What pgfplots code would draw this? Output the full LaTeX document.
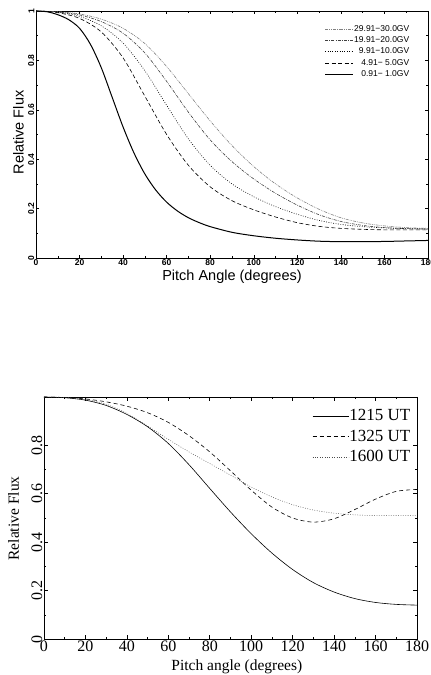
\documentclass[border=0pt]{standalone}
\usepackage{fontspec}
\setmainfont{Liberation Serif}
\setsansfont{Liberation Sans}
\usepackage{pgfplots}
\pgfplotsset{compat=1.18}
\begin{document}
\begin{tikzpicture}
\path[use as bounding box] (0pt,0pt) rectangle (431pt,675pt);
% ---------------- top panel ----------------
\begin{axis}[
  at={(36pt,417pt)}, anchor=south west,
  width=392pt, height=247pt, scale only axis,
  xmin=0, xmax=180, ymin=0, ymax=1,
  xtick={0,20,40,60,80,100,120,140,160,180}, minor x tick num=1,
  ytick={0,0.2,0.4,0.6,0.8,1}, minor y tick num=1,
  tick align=inside, xtick pos=both, ytick pos=both,
  major tick length=3pt, minor tick length=2pt,
  axis line style={line width=0.8pt},
  tick style={line width=0.5pt, black},
  /pgf/number format/assume math mode=true,
  ticklabel style={font=\sffamily\bfseries\fontsize{8.5}{9}\selectfont},
  yticklabel style={rotate=90, anchor=south, inner sep=1.5pt},
  xticklabel style={inner sep=1.5pt},
  xlabel={Pitch Angle (degrees)}, ylabel={Relative Flux},
  label style={font=\sffamily\fontsize{14.5}{16}\selectfont},
  xlabel style={at={(axis description cs:0.5,-0.075)}, anchor=center},
  ylabel style={at={(axis description cs:-0.045,0.508)}, anchor=center},
  no markers,
  legend style={draw=none, fill=none, at={(0.954,0.945)}, anchor=north east,
    font=\sffamily\fontsize{8.5}{9}\selectfont, inner sep=0pt, row sep=2.9pt,
    nodes={inner sep=0.5pt},
    /tikz/every even column/.append style={column sep=8pt}},
  legend cell align=right,
  legend image code/.code={\draw[#1] (0pt,0pt) -- (28pt,0pt);},
]
\addplot[gray, line width=0.6pt, dash pattern=on 3pt off 1pt on 0.8pt off 1pt on 0.8pt off 1pt, smooth] coordinates {
(0,1.0) (10,0.997) (20,0.988) (30,0.967) (40,0.93) (50,0.868) (60,0.775) (70,0.665) (80,0.555) (90,0.455) (100,0.37) (110,0.3) (120,0.243) (130,0.197) (140,0.163) (150,0.142) (160,0.13) (170,0.123) (180,0.12)};
\addlegendentry{29.91−30.0GV}
\addplot[black!75, line width=0.6pt, dash pattern=on 3pt off 1.2pt on 0.8pt off 1.2pt, smooth] coordinates {
(0,1.0) (10,0.996) (20,0.984) (30,0.957) (40,0.91) (50,0.83) (60,0.715) (70,0.59) (80,0.478) (90,0.39) (100,0.32) (110,0.262) (120,0.214) (130,0.175) (140,0.148) (150,0.132) (160,0.123) (170,0.119) (180,0.117)};
\addlegendentry{19.91−20.0GV}
\addplot[black, line width=0.6pt, dash pattern=on 0.8pt off 1.6pt, smooth] coordinates {
(0,1.0) (10,0.995) (20,0.978) (30,0.94) (40,0.87) (50,0.758) (60,0.618) (70,0.482) (80,0.375) (90,0.3) (100,0.248) (110,0.208) (120,0.177) (130,0.152) (140,0.136) (150,0.127) (160,0.122) (170,0.119) (180,0.118)};
\addlegendentry{9.91−10.0GV}
\addplot[black, line width=0.6pt, dash pattern=on 4pt off 2.5pt, smooth] coordinates {
(0,1.0) (10,0.993) (20,0.97) (30,0.915) (40,0.81) (50,0.655) (60,0.5) (70,0.375) (80,0.288) (90,0.232) (100,0.195) (110,0.166) (120,0.143) (130,0.128) (140,0.12) (150,0.116) (160,0.114) (170,0.114) (180,0.114)};
\addlegendentry{4.91− 5.0GV}
\addplot[black, line width=1pt, smooth] coordinates {
(0,1.0) (5,0.997) (10,0.985) (15,0.965) (20,0.93) (25,0.865) (30,0.77) (35,0.65) (40,0.53) (45,0.425) (50,0.34) (55,0.275) (60,0.226) (65,0.19) (70,0.163) (75,0.143) (80,0.127) (90,0.104) (100,0.09) (110,0.08) (120,0.073) (130,0.068) (140,0.066) (150,0.066) (160,0.067) (170,0.069) (180,0.071)};
\addlegendentry{0.91− 1.0GV}
\end{axis}
% ---------------- bottom panel ----------------
\begin{axis}[
  at={(44pt,36pt)}, anchor=south west,
  width=373pt, height=242pt, scale only axis,
  xmin=0, xmax=180, ymin=0, ymax=1,
  xtick={0,20,40,60,80,100,120,140,160,180}, minor x tick num=1,
  ytick={0,0.2,0.4,0.6,0.8}, minor y tick num=1,
  extra y ticks={1}, extra y tick labels={},
  tick align=inside, xtick pos=both, ytick pos=both,
  major tick length=4pt, minor tick length=2.5pt,
  axis line style={line width=0.8pt},
  tick style={line width=0.6pt, black},
  /pgf/number format/assume math mode=true,
  ticklabel style={font=\rmfamily\fontsize{16}{18}\selectfont},
  yticklabel style={rotate=90, anchor=south, inner sep=1.5pt},
  xticklabel style={inner sep=2pt},
  xlabel={Pitch angle (degrees)}, ylabel={Relative Flux},
  label style={font=\rmfamily\fontsize{15.5}{17}\selectfont},
  xlabel style={at={(axis description cs:0.517,-0.1157)}, anchor=center},
  ylabel style={at={(axis description cs:-0.0818,0.498)}, anchor=center},
  no markers,
  legend style={draw=none, fill=none, at={(0.984,0.951)}, anchor=north east,
    font=\rmfamily\fontsize{17}{18}\selectfont, inner sep=0pt, row sep=6.8pt,
    nodes={inner sep=0.5pt},
    /tikz/every even column/.append style={column sep=5pt}},
  legend cell align=right,
  legend image code/.code={\draw[#1] (0pt,0pt) -- (36pt,0pt);},
]
\addplot[black, line width=0.6pt, smooth] coordinates {
(0,1.0) (10,0.997) (20,0.987) (30,0.965) (40,0.928) (50,0.877) (60,0.808) (70,0.72) (80,0.622) (90,0.525) (100,0.435) (110,0.355) (120,0.287) (130,0.233) (140,0.194) (150,0.167) (160,0.151) (170,0.143) (180,0.14)};
\addlegendentry{1215 UT}
\addplot[black, line width=0.6pt, dash pattern=on 4pt off 3pt, smooth] coordinates {
(0,1.0) (10,0.998) (20,0.992) (30,0.98) (40,0.962) (50,0.935) (60,0.895) (70,0.84) (80,0.773) (90,0.695) (100,0.615) (110,0.545) (120,0.5) (130,0.483) (140,0.497) (150,0.535) (160,0.578) (170,0.61) (180,0.618)};
\addlegendentry{1325 UT}
\addplot[black!70, line width=0.5pt, dash pattern=on 0.8pt off 1.6pt, smooth] coordinates {
(0,1.0) (10,0.998) (20,0.99) (30,0.97) (40,0.932) (50,0.88) (60,0.825) (70,0.773) (80,0.725) (90,0.677) (100,0.628) (110,0.587) (120,0.555) (130,0.533) (140,0.52) (150,0.513) (160,0.51) (170,0.51) (180,0.51)};
\addlegendentry{1600 UT}
\end{axis}
\end{tikzpicture}
\end{document}
